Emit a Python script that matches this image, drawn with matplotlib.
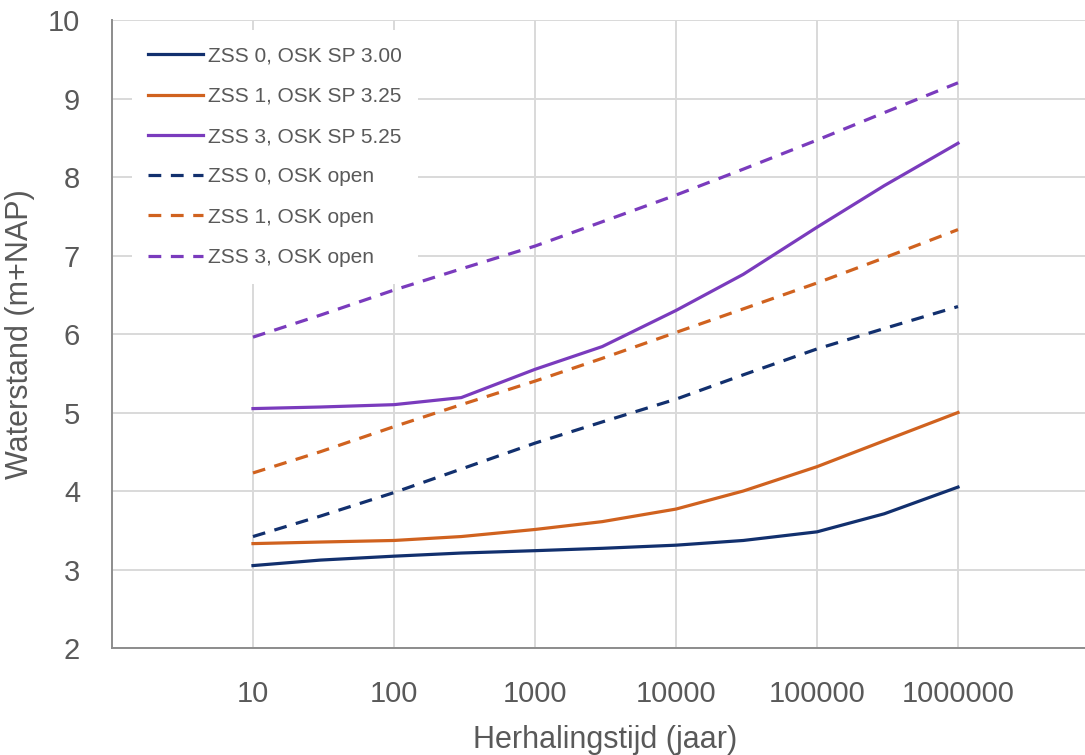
import numpy as np
import matplotlib
matplotlib.use("Agg")
import matplotlib.pyplot as plt

plt.rcParams['font.family'] = ['Liberation Sans', 'DejaVu Sans']

# herhalingstijden (jaar)
T = [10, 30, 100, 300, 1000, 3000, 10000, 30000, 100000, 300000, 1000000]

# waterstanden (m+NAP)
zss0_sp = [3.05, 3.12, 3.17, 3.21, 3.24, 3.27, 3.31, 3.37, 3.48, 3.71, 4.05]
zss1_sp = [3.33, 3.35, 3.37, 3.42, 3.51, 3.61, 3.77, 4.00, 4.31, 4.64, 5.00]
zss3_sp = [5.05, 5.07, 5.10, 5.19, 5.55, 5.84, 6.30, 6.76, 7.36, 7.89, 8.43]
zss0_open = [3.42, 3.68, 3.98, 4.28, 4.61, 4.88, 5.17, 5.48, 5.81, 6.07, 6.35]
zss1_open = [4.23, 4.50, 4.82, 5.10, 5.40, 5.69, 6.02, 6.32, 6.65, 6.97, 7.33]
zss3_open = [5.96, 6.24, 6.56, 6.83, 7.12, 7.43, 7.77, 8.10, 8.47, 8.82, 9.20]

labels = ["ZSS 0, OSK SP 3.00", "ZSS 1, OSK SP 3.25", "ZSS 3, OSK SP 5.25",
          "ZSS 0, OSK open", "ZSS 1, OSK open", "ZSS 3, OSK open"]
xticks = [10, 100, 1000, 10000, 100000, 1000000]

blue = "#12306e"
orange = "#d0621f"
purple = "#7a3bbd"
grey = "#595959"

fig = plt.figure(figsize=(10.85, 7.55), dpi=100)
ax = fig.add_axes([0.1032, 0.1417, 0.9097, 0.8318])

series = [zss0_sp, zss1_sp, zss3_sp, zss0_open, zss1_open, zss3_open]
colors = [blue, orange, purple, blue, orange, purple]
styles = ["-", "-", "-", (0, (4, 3)), (0, (4, 3)), (0, (4, 3))]
for y, c, ls, lab in zip(series, colors, styles, labels):
    ax.plot(T, y, color=c, linestyle=ls, lw=2.3, label=lab, zorder=3)

ax.set_xscale("log")
ax.set_xlim(1, 1e7)
ax.set_ylim(2, 10)
ax.set_xticks(xticks)
ax.set_xticklabels([str(t) for t in xticks])
ax.minorticks_off()
ax.set_yticks(range(2, 11))

ax.grid(True, color="#d9d9d9", lw=1.4)
ax.set_axisbelow(True)
for s in ["top", "right"]:
    ax.spines[s].set_visible(False)
for s in ["left", "bottom"]:
    ax.spines[s].set_color("#8c8c8c")
    ax.spines[s].set_linewidth(1.4)

ax.tick_params(axis="both", length=0, labelsize=21, colors=grey)
ax.tick_params(axis="x", pad=23)
ax.tick_params(axis="y", pad=23)

ax.set_xlabel("Herhalingstijd (jaar)", fontsize=22, color=grey, labelpad=12)
ax.set_ylabel("Waterstand (m+NAP)", fontsize=22, color=grey, labelpad=9)

leg = ax.legend(loc="upper left", bbox_to_anchor=(0.02, 0.984), frameon=True,
                fontsize=15, handlelength=2.6, handletextpad=0.25,
                labelspacing=1.02, borderpad=0.8, borderaxespad=0)
leg.get_frame().set_edgecolor("none")
leg.get_frame().set_facecolor("white")
leg.get_frame().set_alpha(1)
leg.set_zorder(2)
for t in leg.get_texts():
    t.set_color(grey)

fig.savefig("out.png", dpi=100)
